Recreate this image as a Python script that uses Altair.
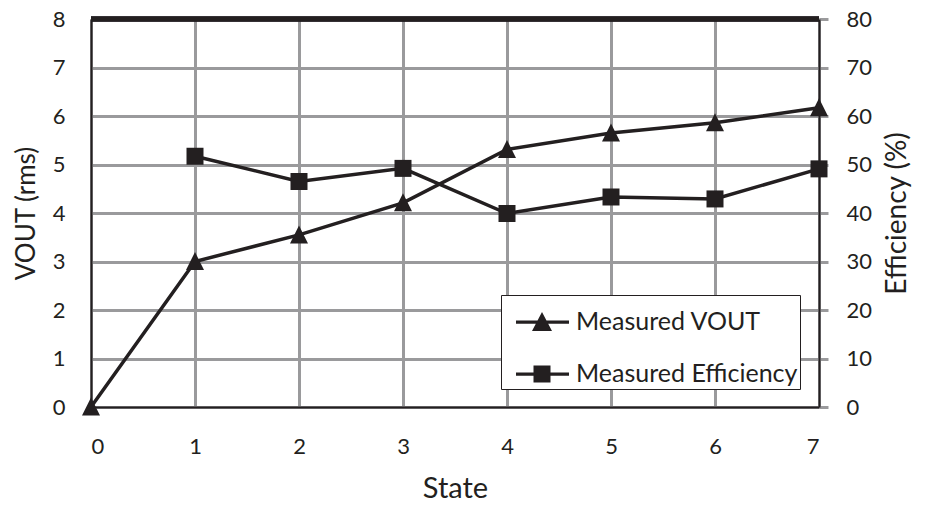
import altair as alt
import pandas as pd

states = [0, 1, 2, 3, 4, 5, 6, 7]
vout = [0.0, 3.0, 3.55, 4.21, 5.31, 5.65, 5.86, 6.17]
eff_states = [1, 2, 3, 4, 5, 6, 7]
eff = [51.7, 46.5, 49.2, 39.9, 43.3, 42.9, 49.1]
series = ["Measured VOUT", "Measured Efficiency"]
vticks = [0, 1, 2, 3, 4, 5, 6, 7, 8]
eticks = [0, 10, 20, 30, 40, 50, 60, 70, 80]

df_v = pd.DataFrame({"State": states, "VOUT": vout, "series": series[0]})
df_e = pd.DataFrame({"State": eff_states, "Eff": eff, "series": series[1]})

INK = "#231f20"
GRID = "#9a9a9c"
FONT = "Lato"

# legend symbols: a line segment with the marker on it (filled shapes only)
LINE = "M-0.48,-0.065H1.64V0.065H-0.48Z"
tri_path = LINE + "M0.16,0.36L0.56,-0.4L0.96,0.36Z"
sq_path = LINE + "M0.22,-0.34H0.9V0.34H0.22Z"
# plot marker triangle (equal width and height)
tri_marker = "M0,-1.05L1,0.95L-1,0.95Z"

x = alt.X(
    "State:Q",
    scale=alt.Scale(domain=[0, 7], nice=False),
    axis=alt.Axis(
        title="State", values=states, format="d", grid=True, gridColor=GRID,
        gridWidth=3, ticks=False, domain=True, domainColor=INK, domainWidth=2,
        labelPadding=29, titlePadding=17, labelFontSize=22, titleFontSize=29,
    ),
)

y_v = alt.Y(
    "VOUT:Q",
    scale=alt.Scale(domain=[0, 8], nice=False),
    axis=alt.Axis(
        title="VOUT (rms)", values=vticks, grid=True, gridColor=GRID, gridWidth=3,
        ticks=False, domain=True, domainColor=INK, domainWidth=2,
        labelPadding=26, titlePadding=13, labelFontSize=22, titleFontSize=26,
    ),
)

y_e = alt.Y(
    "Eff:Q",
    scale=alt.Scale(domain=[0, 80], nice=False),
    axis=alt.Axis(
        title="Efficiency (%)", orient="right", values=eticks, grid=False,
        ticks=True, tickColor=GRID, tickWidth=3, tickSize=9,
        domain=True, domainColor=INK, domainWidth=2,
        labelPadding=18, titlePadding=12, titleAngle=270, titleBaseline="top",
        labelFontSize=22, titleFontSize=28,
    ),
)

v_line = alt.Chart(df_v).mark_line(color=INK, strokeWidth=3.5).encode(x=x, y=y_v)
v_pts = alt.Chart(df_v).mark_point(
    shape=tri_marker, filled=True, size=324, color=INK, opacity=1
).encode(x=x, y=y_v)
top_rule = alt.Chart(df_v).mark_rule(color=INK, strokeWidth=4.5).encode(y=alt.datum(8))

legend_layer = alt.Chart(df_v).transform_filter("false").mark_point(
    filled=True, fill=INK, opacity=1, strokeWidth=0
).encode(
    x=x, y=y_v,
    shape=alt.Shape(
        "series:N",
        scale=alt.Scale(domain=series, range=[tri_path, sq_path]),
        legend=alt.Legend(
            title=None, orient="none", legendX=410, legendY=276,
            labelFont=FONT, labelFontSize=25, labelColor=INK, labelLimit=400,
            symbolSize=2500, symbolStrokeWidth=0, symbolFillColor=INK,
            labelOffset=23, rowPadding=14,
            padding=2, strokeColor=INK, fillColor="white",
        ),
    ),
)

e_line = alt.Chart(df_e).mark_line(color=INK, strokeWidth=3.5).encode(x=x, y=y_e)
e_pts = alt.Chart(df_e).mark_square(size=289, color=INK, opacity=1, filled=True).encode(x=x, y=y_e)

left = alt.layer(v_line, top_rule, legend_layer, v_pts)
right = alt.layer(e_line, e_pts)

chart = alt.layer(left, right).resolve_scale(y="independent").properties(
    width=728, height=388,
    background="white",
    autosize=alt.AutoSizeParams(type="none"),
    padding={"left": 83, "top": 11, "right": 100, "bottom": 97},
).configure_view(stroke=None).configure_axis(
    labelFont=FONT, titleFont=FONT, labelColor=INK, titleColor=INK,
    titleFontWeight="normal",
)

chart.save("out.html", embed_options={"renderer": "svg", "actions": False})
